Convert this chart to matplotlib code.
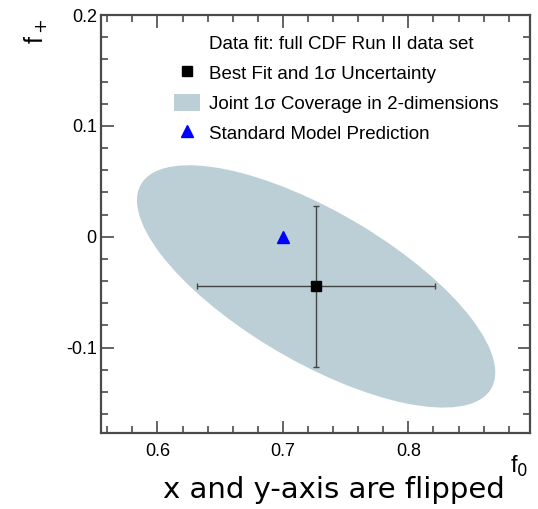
import numpy as np
import matplotlib
matplotlib.use("Agg")
import matplotlib.pyplot as plt
from matplotlib.patches import Ellipse, Patch
from matplotlib.lines import Line2D
from matplotlib.ticker import MultipleLocator

plt.rcParams['font.family'] = ['Liberation Sans', 'DejaVu Sans']

# fit result (f0, f+)
best_fit = [0.7265, -0.0448]
fit_err = [0.095, 0.0727]
fit_corr = -0.71
chi2_68_2d = 2.26   # ~68% coverage for 2 parameters
sm_point = [0.70, 0.0]

legend_title = "Data fit: full CDF Run II data set"
legend_labels = ["Best Fit and 1\u03c3 Uncertainty",
                 "Joint 1\u03c3 Coverage in 2-dimensions",
                 "Standard Model Prediction"]
x_ticks = [0.6, 0.7, 0.8]
y_ticks = [-0.1, 0, 0.1, 0.2]
y_ticklabels = ["-0.1", "0", "0.1", "0.2"]

fill_col = "#bccfd6"
axis_col = "#4a4a4a"

fig = plt.figure(figsize=(5.38, 5.09), dpi=100)
ax = fig.add_axes([101 / 538, 1 - 433 / 509, 429 / 538, 418 / 509])

# 2D coverage ellipse from the covariance
cov = np.array([[fit_err[0] ** 2, fit_corr * fit_err[0] * fit_err[1]],
                [fit_corr * fit_err[0] * fit_err[1], fit_err[1] ** 2]])
vals, vecs = np.linalg.eigh(cov)
angle = np.degrees(np.arctan2(vecs[1, 1], vecs[0, 1]))
ell = Ellipse(best_fit, 2 * np.sqrt(chi2_68_2d * vals[1]), 2 * np.sqrt(chi2_68_2d * vals[0]),
              angle=angle, facecolor=fill_col, edgecolor='none', zorder=1)
ax.add_patch(ell)

ax.errorbar([best_fit[0]], [best_fit[1]], xerr=[fit_err[0]], yerr=[fit_err[1]],
            fmt='s', color='black', ms=6.5, ecolor='#444444', elinewidth=1,
            capsize=2, capthick=1, zorder=3)
ax.plot([sm_point[0]], [sm_point[1]], marker='^', color='blue', ms=8, ls='none', zorder=4)

ax.set_xlim(0.555, 0.897)
ax.set_ylim(-0.177, 0.2)
ax.set_xticks(x_ticks)
ax.set_xticklabels([str(t) for t in x_ticks])
ax.set_yticks(y_ticks)
ax.set_yticklabels(y_ticklabels)
ax.xaxis.set_minor_locator(MultipleLocator(0.02))
ax.yaxis.set_minor_locator(MultipleLocator(0.02))
ax.tick_params(which='both', direction='in', top=True, right=True,
               color=axis_col, width=1.2, labelsize=13)
ax.tick_params(which='major', length=9)
ax.tick_params(which='minor', length=5)
ax.tick_params(axis='x', pad=7)
ax.tick_params(axis='y', pad=3)
for s in ax.spines.values():
    s.set_color(axis_col)
    s.set_linewidth(1.6)

ax.set_ylabel(r"f$_+$", fontsize=18, rotation=90)
ax.yaxis.set_label_coords(-0.12, 0.96)
ax.set_xlabel(r"f$_0$", fontsize=17, va='top')
ax.xaxis.set_label_coords(0.975, -0.05)

handles = [Line2D([], [], ls='none'),
           Line2D([], [], marker='s', color='black', ms=6.5, ls='none'),
           Patch(facecolor=fill_col, edgecolor='none'),
           Line2D([], [], marker='^', color='blue', ms=8, ls='none')]
leg = ax.legend(handles, [legend_title] + legend_labels, loc='upper left',
                bbox_to_anchor=(0.17, 0.955), frameon=False, fontsize=13.5,
                borderpad=0, borderaxespad=0, handlelength=1.4, handleheight=1.0,
                handletextpad=0.45, labelspacing=0.6)

fig.text(163 / 538, 1 - 498 / 509, "x and y-axis are flipped", fontsize=21,
         family=['DejaVu Sans'], va='baseline')

fig.savefig("out.png", dpi=100)
